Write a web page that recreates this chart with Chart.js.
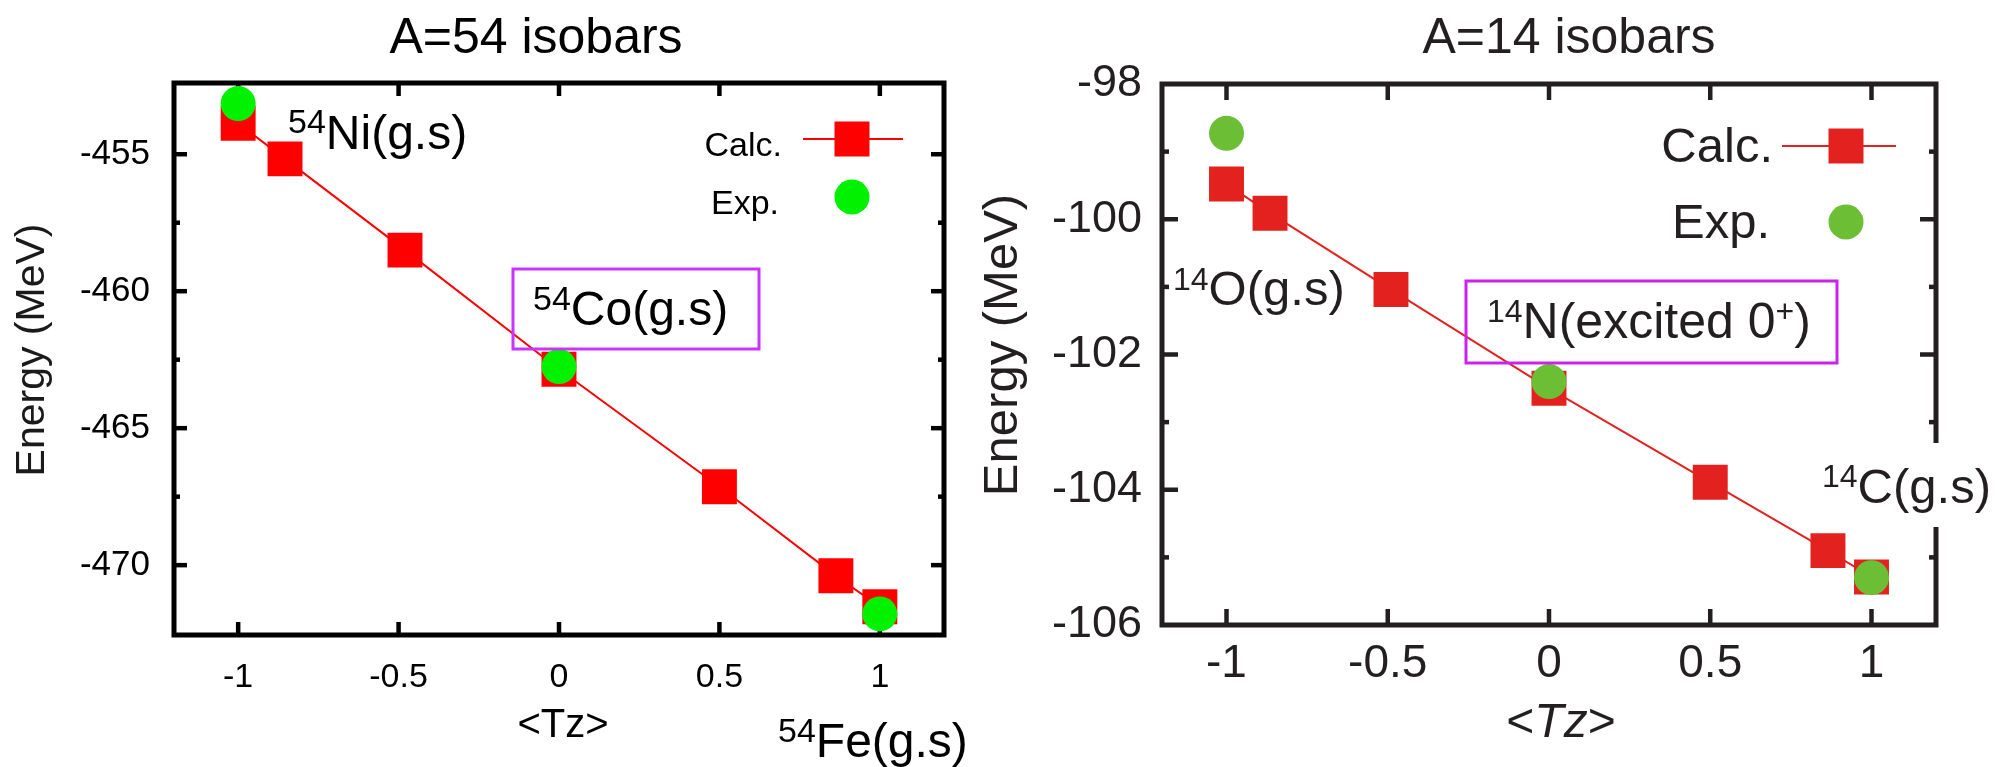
<!DOCTYPE html>
<html>
<head>
<meta charset="utf-8">
<script src="https://cdn.jsdelivr.net/npm/chart.js@4.4.1/dist/chart.umd.min.js"></script>
<style>
  body { margin: 0; background: #fff; width: 1998px; height: 767px; overflow: hidden; position: relative; }
  canvas { position: absolute; top: 0; }
  #c54 { left: 0; }
  #c14 { left: 980px; }
</style>
</head>
<body>
<canvas id="c54" width="980" height="767"></canvas>
<canvas id="c14" width="1018" height="767"></canvas>
<script>
// A=54 isobars
const tz54Calc = [-1, -0.854, -0.48, 0, 0.5, 0.863, 1];
const e54Calc = [-453.87, -455.17, -458.5, -462.85, -467.14, -470.39, -471.52];
const tz54Exp = [-1, 0, 1];
const e54Exp = [-453.15, -462.75, -471.78];

// A=14 isobars
const tz14Calc = [-1, -0.865, -0.49, 0, 0.5, 0.865, 1];
const e14Calc = [-99.48, -99.91, -101.04, -102.5, -103.89, -104.9, -105.29];
const tz14Exp = [-1, 0, 1];
const e14Exp = [-98.73, -102.4, -105.3];

// axes
const xTicks = [-1, -0.5, 0, 0.5, 1];
const yTicks54 = [-455, -460, -465, -470];
const yMinor54 = [-457.5, -462.5, -467.5];
const yTicks14 = [-98, -100, -102, -104, -106];
const yMinor14 = [-99, -101, -103, -105];

const FONT = '"Liberation Sans", Arial, sans-serif';
const pts = (xs, ys) => xs.map((v, i) => ({ x: v, y: ys[i] }));

function txt(ctx, s, x, y, size, color, align, style) {
  ctx.font = `${style || ''} ${size}px ${FONT}`;
  ctx.fillStyle = color;
  ctx.textAlign = align || 'left';
  ctx.textBaseline = 'alphabetic';
  ctx.fillText(s, x, y);
  return ctx.measureText(s).width;
}

// runs of text on one baseline, each with its own size and vertical shift
function label(ctx, x, base, parts, color) {
  parts.forEach(([s, size, dy, style]) => { x += txt(ctx, s, x, base + dy, size, color, 'left', style); });
}

function line(ctx, x1, y1, x2, y2) {
  ctx.beginPath(); ctx.moveTo(x1, y1); ctx.lineTo(x2, y2); ctx.stroke();
}

// box frame with inward ticks on all four sides
const framePlugin = {
  id: 'frame',
  beforeDatasetsDraw(chart, args, o) {
    const { ctx, chartArea: a, scales: { x, y } } = chart;
    ctx.save();
    ctx.strokeStyle = o.color;
    ctx.lineWidth = 5;
    ctx.strokeRect(a.left, a.top, a.right - a.left, a.bottom - a.top);
    ctx.lineWidth = 4.5;
    xTicks.forEach(v => {
      const p = x.getPixelForValue(v);
      line(ctx, p, a.bottom, p, a.bottom - o.major);
      line(ctx, p, a.top, p, a.top + o.major);
    });
    o.yMajor.forEach(v => {
      const p = y.getPixelForValue(v);
      if (p < a.top + 3 || p > a.bottom - 3) return;
      line(ctx, a.left, p, a.left + o.major, p);
      line(ctx, a.right, p, a.right - o.major, p);
    });
    o.yMinor.forEach(v => {
      const p = y.getPixelForValue(v);
      line(ctx, a.left, p, a.left + o.minor, p);
      line(ctx, a.right, p, a.right - o.minor, p);
    });
    ctx.restore();
  },
  afterDraw(chart, args, o) {
    const ctx = chart.ctx;
    ctx.save();
    o.draw(ctx, chart);
    ctx.restore();
  }
};

function legend(ctx, c, lx, ty1, ty2, sx, sy1, sy2, l1, l2, size, textColor) {
  txt(ctx, 'Calc.', lx, ty1, size, textColor, 'right');
  txt(ctx, 'Exp.', lx - 3, ty2, size, textColor, 'right');
  ctx.strokeStyle = c.line; ctx.lineWidth = 2;
  line(ctx, l1, sy1, l2, sy1);
  ctx.fillStyle = c.square;
  ctx.fillRect(sx - 17.5, sy1 - 17.5, 35, 35);
  ctx.fillStyle = c.circle;
  ctx.beginPath(); ctx.arc(sx, sy2, 17.5, 0, Math.PI * 2); ctx.fill();
}

function makeChart(id, cfg) {
  return new Chart(document.getElementById(id), {
    type: 'scatter',
    data: {
      datasets: [
        {
          label: 'Exp.', data: pts(cfg.tzExp, cfg.eExp), order: 0,
          pointStyle: 'circle', pointRadius: 17.5, pointBorderWidth: 0,
          backgroundColor: cfg.colors.circle, showLine: false, clip: false
        },
        {
          label: 'Calc.', data: pts(cfg.tzCalc, cfg.eCalc), order: 1,
          pointStyle: 'rect', pointRadius: 24.7, pointBorderWidth: 0,
          backgroundColor: cfg.colors.square, borderColor: cfg.colors.line, borderWidth: 2,
          showLine: true, clip: false
        }
      ]
    },
    options: {
      responsive: false,
      animation: false,
      devicePixelRatio: 1,
      layout: { padding: { top: cfg.top, right: cfg.right, left: 0, bottom: 0 } },
      plugins: {
        legend: { display: false },
        tooltip: { enabled: false },
        frame: { color: cfg.axisColor, major: cfg.major, minor: cfg.minor, yMajor: cfg.yTicks, yMinor: cfg.yMinor, draw: cfg.draw }
      },
      scales: {
        x: {
          type: 'linear', min: -1.2, max: 1.2,
          grid: { display: false, drawTicks: false }, border: { display: false },
          afterBuildTicks: s => { s.ticks = xTicks.map(v => ({ value: v })); },
          afterFit: s => { s.height = cfg.xHeight; },
          ticks: { color: cfg.textColor, padding: cfg.xPad, font: { family: FONT, size: cfg.xFont }, callback: v => String(v), maxRotation: 0 }
        },
        y: {
          type: 'linear', min: cfg.yMin, max: cfg.yMax,
          grid: { display: false, drawTicks: false }, border: { display: false },
          afterBuildTicks: s => { s.ticks = cfg.yTicks.map(v => ({ value: v })); },
          afterFit: s => { s.width = cfg.yWidth; },
          ticks: { color: cfg.textColor, padding: cfg.yPad, font: { family: FONT, size: cfg.yFont }, callback: v => String(v) }
        }
      }
    },
    plugins: [framePlugin]
  });
}

const col54 = { square: '#ff0000', line: '#ff0000', circle: '#00f200' };
const col14 = { square: '#e3221f', line: '#e3221f', circle: '#6cbf35' };

makeChart('c54', {
  tzCalc: tz54Calc, eCalc: e54Calc, tzExp: tz54Exp, eExp: e54Exp,
  colors: col54, axisColor: '#000', textColor: '#000',
  yMin: -472.55, yMax: -452.4, yTicks: yTicks54, yMinor: yMinor54,
  top: 83, right: 36, yWidth: 174, xHeight: 132,
  xPad: 22, yPad: 24, xFont: 34, yFont: 35, major: 13, minor: 6,
  draw(ctx) {
    const k = '#000';
    txt(ctx, 'A=54 isobars', 536, 53, 50, k, 'center');
    txt(ctx, '<Tz>', 563, 737, 40, k, 'center');
    ctx.save();
    ctx.translate(44, 350); ctx.rotate(-Math.PI / 2);
    txt(ctx, 'Energy (MeV)', 0, 0, 41, '#1a1a1a', 'center');
    ctx.restore();
    legend(ctx, col54, 782, 156, 214, 852, 139, 197, 803, 903, 34, k);
    label(ctx, 288, 149, [['54', 34, -16], ['Ni(g.s)', 48, 0]], k);
    ctx.strokeStyle = '#cc33ff'; ctx.lineWidth = 3;
    ctx.strokeRect(513, 269, 246, 80);
    label(ctx, 533, 325, [['54', 34, -15], ['Co(g.s)', 48, 0]], k);
    label(ctx, 778, 757, [['54', 34, -15], ['Fe(g.s)', 48, 0]], k);
  }
});

makeChart('c14', {
  tzCalc: tz14Calc, eCalc: e14Calc, tzExp: tz14Exp, eExp: e14Exp,
  colors: col14, axisColor: '#231f20', textColor: '#231f20',
  yMin: -106, yMax: -98, yTicks: yTicks14, yMinor: yMinor14,
  top: 84, right: 62, yWidth: 182, xHeight: 142,
  xPad: 12, yPad: 20, xFont: 46, yFont: 45, major: 16, minor: 7,
  draw(ctx) {
    const k = '#231f20';
    txt(ctx, 'A=14 isobars', 589, 53, 50, k, 'center');
    // <Tz> with italic Tz
    ctx.font = `48px ${FONT}`;
    const wl = ctx.measureText('<').width, wr = ctx.measureText('>').width;
    ctx.font = `italic 48px ${FONT}`;
    const wm = ctx.measureText('Tz').width;
    label(ctx, 581 - (wl + wm + wr) / 2, 737, [['<', 48, 0], ['Tz', 48, 0, 'italic'], ['>', 48, 0]], k);
    ctx.save();
    ctx.translate(37, 345); ctx.rotate(-Math.PI / 2);
    txt(ctx, 'Energy (MeV)', 0, 0, 49, k, 'center');
    ctx.restore();
    legend(ctx, col14, 793, 162, 238, 866, 146, 222, 802, 916, 49, k);
    label(ctx, 193, 305, [['14', 32, -15], ['O(g.s)', 49, 0]], k);
    ctx.strokeStyle = '#cc22ee'; ctx.lineWidth = 3;
    ctx.strokeRect(486, 281, 371, 82);
    label(ctx, 507, 338, [['14', 32, -16], ['N(excited 0', 50, 0], ['+', 32, -16], [')', 50, 0]], k);
    ctx.fillStyle = '#fff';
    ctx.fillRect(835, 443, 183, 84);
    label(ctx, 842, 503, [['14', 32, -16], ['C(g.s)', 49, 0]], k);
  }
});
</script>
</body>
</html>
